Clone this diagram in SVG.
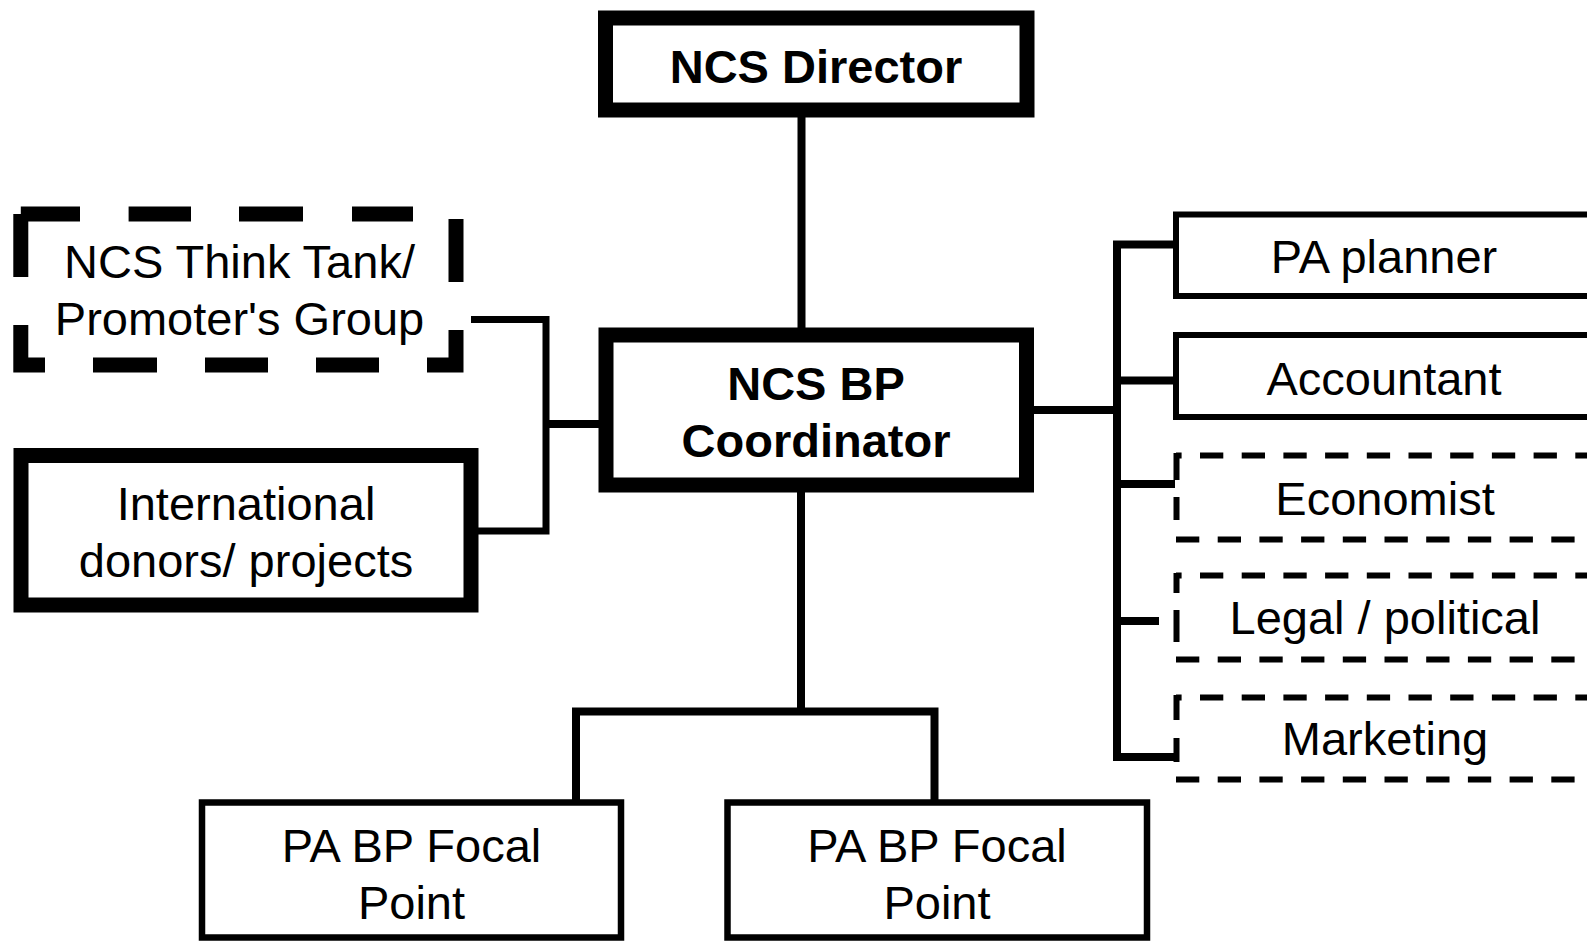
<svg xmlns="http://www.w3.org/2000/svg" width="1587" height="941" viewBox="0 0 1587 941">
<style>
text{font-family:"Liberation Sans",Arial,sans-serif;font-size:47px;fill:#000;text-anchor:middle}
.b{font-weight:bold}
.thick{fill:#fff;stroke:#000;stroke-width:15}
.thin{fill:#fff;stroke:#000;stroke-width:6}
.dl{fill:none;stroke:#000;stroke-width:6;stroke-dasharray:23.3 18.4}
.bg{fill:#fff;stroke:none}
.c{fill:none;stroke:#000;stroke-width:8}
</style>
<rect width="1587" height="941" fill="#fff"/>
<g id="connectors">
<path class="c" d="M801.5,110 V335"/>
<path class="c" d="M801,485 V711.5"/>
<path class="c" d="M576,802 V711.5 H934.5 V802"/>
<path class="c" style="stroke-width:7" d="M471,319.5 H546 V531 H471"/>
<path class="c" d="M546,424 H606"/>
<path class="c" d="M1026,410 H1117"/>
<path class="c" d="M1175,244.5 H1117 V757 H1175"/>
<path class="c" d="M1117,380.5 H1175"/>
<path class="c" d="M1117,484 H1175"/>
<path class="c" d="M1117,621 H1159"/>
</g>
<g id="director">
<rect class="thick" x="605.5" y="18" width="421.5" height="92"/>
<text class="b" x="816" y="83">NCS Director</text>
</g>
<g id="coordinator">
<rect class="thick" x="606" y="335" width="420.5" height="150"/>
<text class="b" x="816" y="400">NCS BP</text>
<text class="b" x="816" y="457">Coordinator</text>
</g>
<g id="think-tank">
<rect x="20.8" y="214" width="435.2" height="151" fill="#fff" stroke="#000" stroke-width="15" stroke-dasharray="59.2 48.6 62.4 48 64 49 61 48 63 48 64 48 63 48 63 48 64 48 64.2 48 63 10"/>
<text x="239.5" y="278">NCS Think Tank/</text>
<text x="239.5" y="335">Promoter's Group</text>
</g>
<g id="donors">
<rect class="thick" x="21" y="455.5" width="450" height="149.5"/>
<text x="246" y="520">International</text>
<text x="246" y="577">donors/ projects</text>
</g>
<g id="pa-planner">
<rect class="thin" x="1176" y="214.5" width="430" height="81.5"/>
<text x="1384" y="273">PA planner</text>
</g>
<g id="accountant">
<rect class="thin" x="1176" y="335" width="430" height="82"/>
<text x="1384" y="395">Accountant</text>
</g>
<g id="economist">
<rect class="bg" x="1176" y="455.5" width="430" height="84"/>
<line class="dl" x1="1176" y1="455.5" x2="1600" y2="455.5" stroke-dashoffset="17.7"/>
<line class="dl" x1="1176" y1="539.5" x2="1600" y2="539.5"/>
<line class="dl" x1="1176.5" y1="453" x2="1176.5" y2="539.5" style="stroke-dasharray:27 17 23 40"/>
<text x="1385" y="515">Economist</text>
</g>
<g id="legal">
<rect class="bg" x="1176" y="575.5" width="430" height="84"/>
<line class="dl" x1="1176" y1="575.5" x2="1600" y2="575.5" stroke-dashoffset="17.7"/>
<line class="dl" x1="1176" y1="659.5" x2="1600" y2="659.5"/>
<line class="dl" x1="1176.5" y1="573" x2="1176.5" y2="659.5" style="stroke-dasharray:20 17 32 40"/>
<text x="1385" y="634">Legal / political</text>
</g>
<g id="marketing">
<rect class="bg" x="1176" y="697.5" width="430" height="82"/>
<line class="dl" x1="1176" y1="697.5" x2="1600" y2="697.5" stroke-dashoffset="17.7"/>
<line class="dl" x1="1176" y1="779.5" x2="1600" y2="779.5"/>
<line class="dl" x1="1176.5" y1="695" x2="1176.5" y2="779.5" style="stroke-dasharray:25 18 24 40"/>
<text x="1385" y="755">Marketing</text>
</g>
<g id="focal-1">
<rect class="thin" style="stroke-width:6.5" x="202" y="802.5" width="419" height="135"/>
<text x="411.5" y="862">PA BP Focal</text>
<text x="411.5" y="919">Point</text>
</g>
<g id="focal-2">
<rect class="thin" style="stroke-width:6.5" x="727.5" y="802.5" width="419.5" height="135"/>
<text x="937" y="862">PA BP Focal</text>
<text x="937" y="919">Point</text>
</g>
</svg>
